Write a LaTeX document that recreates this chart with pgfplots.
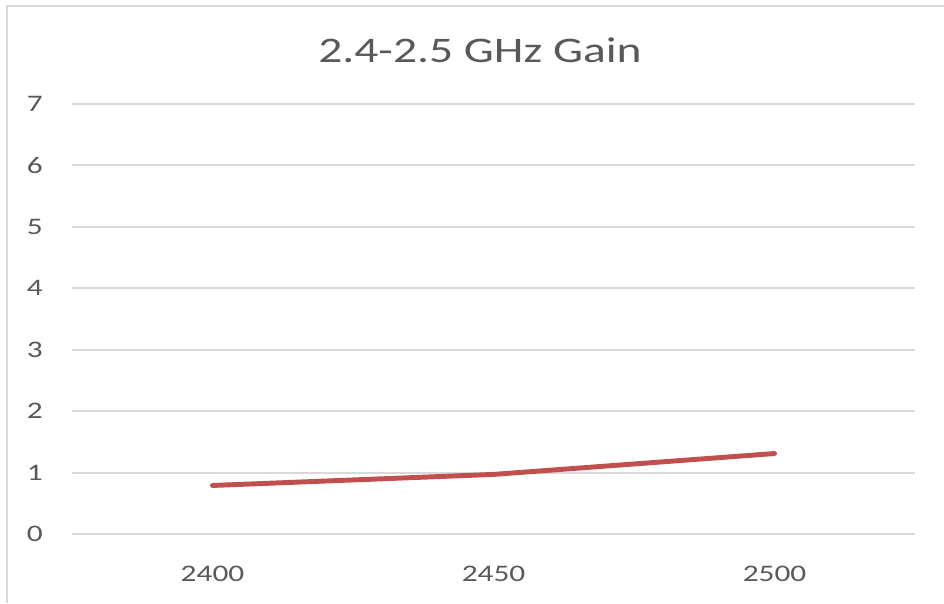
\documentclass[border=0pt]{standalone}
\usepackage{fontspec}
\setmainfont{Carlito}[FakeStretch=1.32]
\usepackage{pgfplots}
\pgfplotsset{compat=1.18}
\definecolor{gridgray}{HTML}{D9D9D9}
\definecolor{labelgray}{HTML}{595959}
\definecolor{excelred}{HTML}{C0504D}
\begin{document}
\begin{tikzpicture}
% chart frame (1px = 0.75pt)
\draw[gridgray, line width=1.5pt] (5.25pt,0pt) -- (5.25pt,447.75pt) -- (708pt,447.75pt);
\node[labelgray, font=\fontsize{27}{30}\selectfont] at (360pt,414.75pt) {2.4-2.5 GHz Gain};
\begin{axis}[
    at={(54pt,51.75pt)}, anchor=south west,
    scale only axis, width=632.25pt, height=322.5pt,
    xmin=-0.5, xmax=2.5, ymin=0, ymax=7,
    xtick=data, xticklabels={2400,2450,2500},
    ytick={0,1,...,7},
    ymajorgrids, grid style={gridgray, line width=1.4pt},
    axis line style={draw=none}, major tick length=0pt,
    /pgf/number format/assume math mode=true,
    tick label style={labelgray, font=\fontsize{17.8}{20}\selectfont, inner sep=0pt},
    yticklabel style={anchor=east, xshift=-21.75pt},
    xticklabel style={anchor=north, yshift=-24pt},
    clip=false,
]
\addplot[excelred, line width=3.7pt, line cap=round, line join=round] coordinates {
(0, 0.79)
(1, 0.97)
(2, 1.31)
};
\end{axis}
\pgfresetboundingbox
\useasboundingbox (0pt,0pt) rectangle (708pt,452.25pt);
\end{tikzpicture}
\end{document}
